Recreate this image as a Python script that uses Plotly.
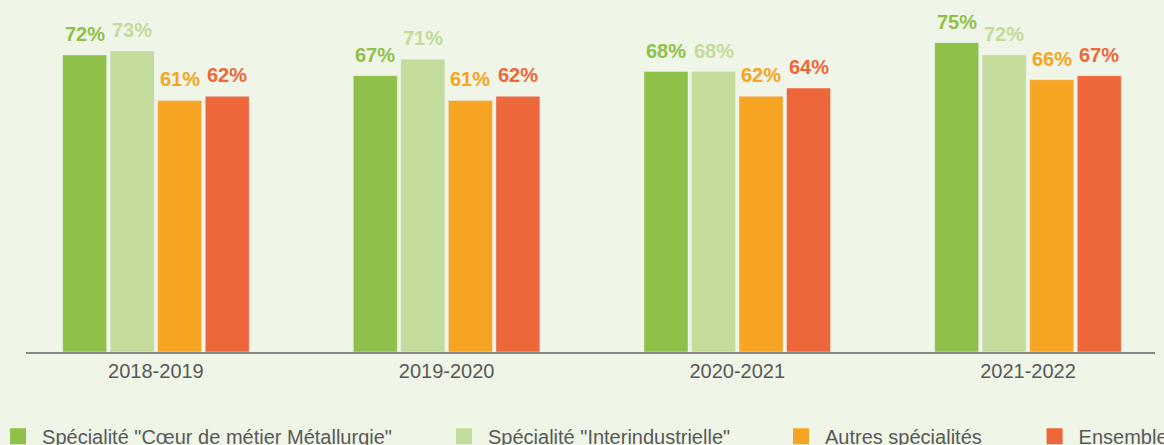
import plotly.graph_objects as go

years = ["2018-2019", "2019-2020", "2020-2021", "2021-2022"]
coeur = [72, 67, 68, 75]
inter = [73, 71, 68, 72]
autres = [61, 61, 62, 66]
ensemble = [62, 62, 64, 67]

series_names = [
    'Spécialité "Cœur de métier Métallurgie"',
    'Spécialité "Interindustrielle"',
    "Autres spécialités",
    "Ensemble",
]
series_values = [coeur, inter, autres, ensemble]
colors = ["#8fc14a", "#c3dc9b", "#f6a421", "#ee673a"]
# one legend per entry, left edges in paper units
legend_x = [-0.0283, 0.3667, 0.6652, 0.8898]

FONT = "Liberation Sans, Arial, sans-serif"
BG = "#eff5e7"

fig = go.Figure()
for name, values, color in zip(series_names, series_values, colors):
    fig.add_bar(
        x=years,
        y=values,
        name=name,
        marker_color=color,
        showlegend=False,
    )

# legend entries with bigger squares
legend_ids = ["legend", "legend2", "legend3", "legend4"]
for name, color, lid in zip(series_names, colors, legend_ids):
    fig.add_scatter(
        x=[None],
        y=[None],
        mode="markers",
        name=name,
        marker={"symbol": "square", "size": 16, "color": color},
        showlegend=True,
        legend=lid,
    )

slot = 47.5
for i, (values, color) in enumerate(zip(series_values, colors)):
    for year, value in zip(years, values):
        fig.add_annotation(
            x=year,
            y=value,
            text=f"{value}%",
            showarrow=False,
            xanchor="center",
            yanchor="bottom",
            xshift=(i - 1.5) * slot,
            yshift=8,
            font={"family": FONT, "size": 20, "color": color, "weight": "bold"},
        )

legend_style = {
    "orientation": "h",
    "xanchor": "left",
    "y": -0.196,
    "yanchor": "top",
    "itemwidth": 38,
    "font": {"size": 20, "color": "#595959"},
    "bgcolor": "rgba(0,0,0,0)",
}
fig.update_layout(
    width=1164,
    height=445,
    margin={"l": 26, "r": 9, "t": 22, "b": 93, "autoexpand": False},
    paper_bgcolor=BG,
    plot_bgcolor=BG,
    barmode="group",
    bargap=0.346,
    bargroupgap=0.074,
    font={"family": FONT, "color": "#595959", "size": 20},
    **{lid: dict(legend_style, x=lx) for lid, lx in zip(legend_ids, legend_x)},
)
fig.update_xaxes(
    type="category",
    range=[-0.447, 3.437],
    showline=True,
    linecolor="#878787",
    linewidth=2,
    showgrid=False,
    ticks="",
    tickfont={"size": 20, "color": "#595959"},
)
fig.update_yaxes(
    range=[0, 80],
    visible=False,
    showgrid=False,
    zeroline=False,
)

fig.write_html(
    "out.html",
    config={"displayModeBar": False},
    post_script=f"document.body.style.margin='0';document.body.style.background='{BG}';",
)
